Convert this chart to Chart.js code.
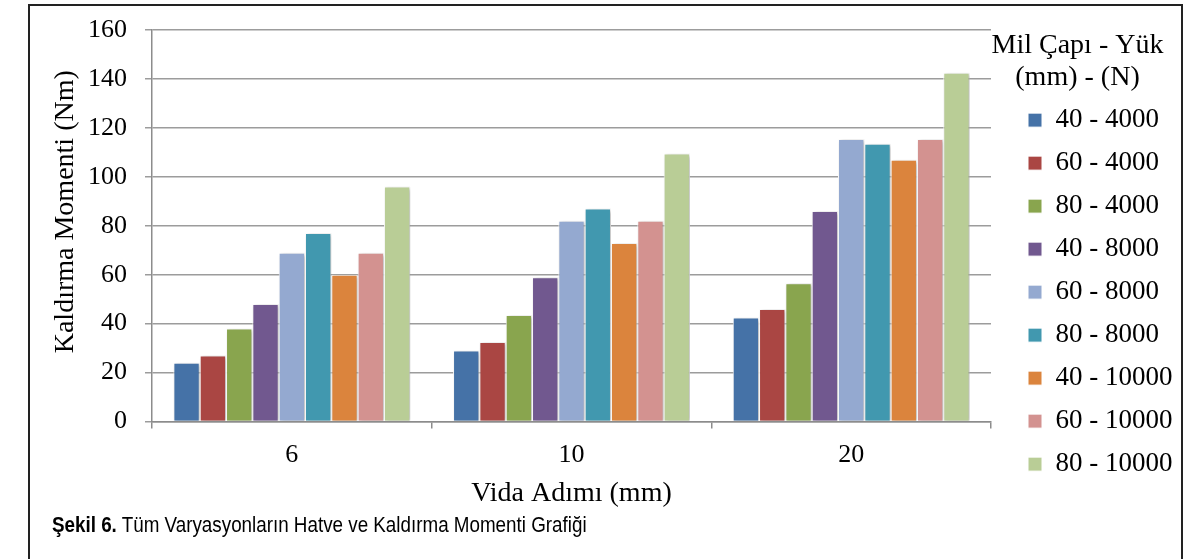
<!DOCTYPE html>
<html>
<head>
<meta charset="utf-8">
<script src="https://cdn.jsdelivr.net/npm/chart.js@4/dist/chart.umd.min.js"></script>
<style>
  body { margin: 0; background: #fff; }
  #kutu { position: relative; width: 1200px; height: 559px; }
  #cerceve {
    position: absolute; left: 28px; top: 4px; width: 1151px; height: 553px;
    border: 2px solid #222; border-bottom-color: #999; pointer-events: none;
  }
  #baslik {
    position: absolute; left: 52px; top: 514px; line-height: 22px;
    font-family: "Liberation Sans", Arial, sans-serif;
    font-size: 22px; color: #000; white-space: nowrap;
    transform: scaleX(0.855); transform-origin: left center;
  }
</style>
</head>
<body>
<div id="kutu">
  <canvas id="grafik" width="1200" height="559"></canvas>
  <div id="cerceve"></div>
  <div id="baslik"><b>Şekil 6.</b> Tüm Varyasyonların Hatve ve Kaldırma Momenti Grafiği</div>
</div>
<script>
// Veriler
const kategoriler = ['6', '10', '20'];
const seriler = ['40 - 4000', '60 - 4000', '80 - 4000', '40 - 8000', '60 - 8000',
  '80 - 8000', '40 - 10000', '60 - 10000', '80 - 10000'];

const v40_4000 = [24, 29, 42.5];
const v60_4000 = [27, 32.5, 46];
const v80_4000 = [38, 43.5, 56.5];
const v40_8000 = [48, 59, 86];
const v60_8000 = [69, 82, 115.5];
const v80_8000 = [77, 87, 113.5];
const v40_10000 = [60, 73, 107];
const v60_10000 = [69, 82, 115.5];
const v80_10000 = [96, 109.5, 142.5];
const degerler = [v40_4000, v60_4000, v80_4000, v40_8000, v60_8000,
  v80_8000, v40_10000, v60_10000, v80_10000];

const yMin = 0;
const yMax = 160;
const yAdim = 20;

const renkler = ['#4572A7', '#AA4643', '#89A54E', '#71588F', '#94A9D0',
  '#4198AF', '#DB843D', '#D39290', '#B9CD96'];

/*******************************************************************************/
// Yardimci eklentiler

// golge
const golge = {
  id: 'golge',
  beforeDatasetsDraw(chart) {
    const ctx = chart.ctx;
    ctx.save();
    ctx.shadowColor = 'rgba(0,0,0,0.28)';
    ctx.shadowBlur = 4;
    ctx.shadowOffsetX = 2;
    ctx.shadowOffsetY = 1;
  },
  afterDatasetsDraw(chart) {
    chart.ctx.restore();
  }
};

// lejant genisligi sabit, kirpma yok
const lejantGenislik = {
  id: 'lejantGenislik',
  afterInit(chart) {
    const lg = chart.legend;
    const eskiFit = lg.fit;
    lg.fit = function () {
      eskiFit.call(this);
      this.width = 131;
    };
    lg.draw = function () {
      if (this.options.display) this._draw();
    };
  }
};

/*******************************************************************************/
// Grafik
Chart.defaults.font.family = "'Liberation Serif', 'Times New Roman', serif";
Chart.defaults.color = '#000';

const datasets = seriler.map((ad, i) => ({
  label: ad,
  data: degerler[i],
  backgroundColor: renkler[i],
  borderColor: '#ffffff',
  borderWidth: 1,
  categoryPercentage: 0.847,
  barPercentage: 1
}));

new Chart(document.getElementById('grafik').getContext('2d'), {
  type: 'bar',
  data: { labels: kategoriler, datasets: datasets },
  options: {
    responsive: false,
    animation: false,
    layout: { padding: { top: 30, right: 57, bottom: 0, left: 0 } },
    plugins: {
      tooltip: { enabled: false },
      legend: {
        position: 'right',
        align: 'start',
        labels: {
          font: { size: 27 },
          boxWidth: 14,
          boxHeight: 14,
          padding: 16,
          color: '#000'
        },
        title: {
          display: true,
          text: ['Mil Çapı - Yük', '(mm) - (N)'],
          position: 'center',
          font: { size: 28, lineHeight: 1.13 },
          padding: { top: 2, bottom: 27 },
          color: '#000'
        }
      }
    },
    scales: {
      x: {
        grid: { display: true, drawOnChartArea: false, drawTicks: true, tickLength: 7, color: '#8c8c8c', lineWidth: 1.5 },
        border: { display: true, color: '#8c8c8c', width: 1.5 },
        ticks: { font: { size: 26 }, padding: 11, maxRotation: 0, color: '#000' },
        title: {
          display: true,
          text: 'Vida Adımı (mm)',
          font: { size: 28 },
          padding: { top: 0, bottom: 49 },
          color: '#000'
        },
        afterFit(s) { s.height = 137.5; }
      },
      y: {
        min: yMin,
        max: yMax,
        grid: { color: '#9c9c9c', lineWidth: 1.5, tickLength: 7 },
        border: { display: true, color: '#8c8c8c', width: 1.5 },
        ticks: { stepSize: yAdim, font: { size: 26, lineHeight: 0.9 }, padding: 18, color: '#000' },
        title: {
          display: true,
          text: '    Kaldırma Momenti (Nm)',
          font: { size: 28 },
          padding: { top: 49, bottom: 0 },
          color: '#000'
        },
        afterFit(s) { s.width = 152; }
      },
      y2: {
        position: 'right',
        grid: { display: false },
        border: { display: false },
        ticks: { display: false },
        afterFit(s) { s.width = 21; }
      }
    }
  },
  plugins: [golge, lejantGenislik]
});
</script>
</body>
</html>
